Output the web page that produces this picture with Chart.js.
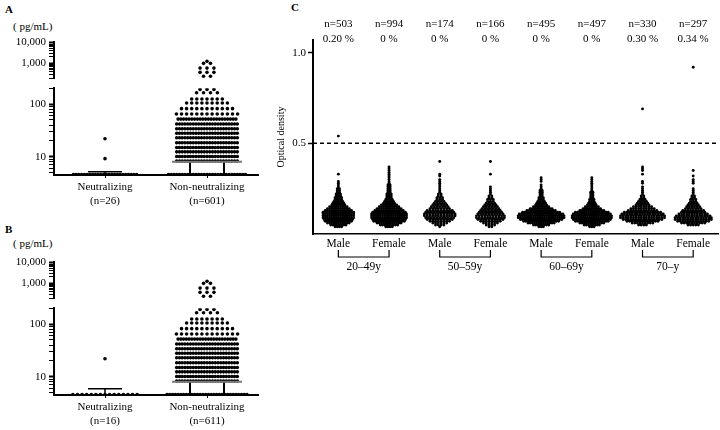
<!DOCTYPE html>
<html>
<head>
<meta charset="utf-8">
<script src="https://cdn.jsdelivr.net/npm/chart.js@4.4.0/dist/chart.umd.min.js"></script>
<style>
body { margin: 0; background: #fff; width: 720px; height: 430px; position: relative; overflow: hidden; font-family: 'Liberation Serif', 'Times New Roman', serif; }
canvas { position: absolute; }
.lbl { position: absolute; font-size: 11px; line-height: 13px; color: #000; white-space: nowrap; }
</style>
</head>
<body>
<div class="lbl" style="left:5px;top:3px;font-weight:bold">A</div>
<div class="lbl" style="left:13px;top:20px">( pg/mL)</div>
<div class="lbl" style="left:5px;top:223px;font-weight:bold">B</div>
<div class="lbl" style="left:13px;top:237px">( pg/mL)</div>
<div class="lbl" style="left:291px;top:1px;font-weight:bold">C</div>
<canvas id="chartA" width="265" height="215" style="left:0;top:0"></canvas>
<canvas id="chartB" width="265" height="210" style="left:0;top:220px"></canvas>
<canvas id="chartC" width="445" height="290" style="left:275px;top:0"></canvas>
<script>
// panel A / B: rows of the dot plots (value in pg/mL, and how many dots sit in that row)
const groupsAB = ['Neutralizing', 'Non-neutralizing'];

const aNeutVals = [4.6, 9.2, 22];
const aNeutCounts = [24, 1, 1];
const aNonVals = [4.6, 8.3, 10.1, 12.4, 15, 18.5, 23, 28, 34, 42, 52, 65, 82, 105, 125, 165, 190, 250, 380, 600, 1000, 1250];
const aNonCounts = [29, 23, 23, 23, 23, 23, 23, 23, 23, 23, 22, 13, 11, 9, 7, 4, 3, 2, 3, 3, 2, 1];
const aN = [26, 601];
const aCap = 5.2;   // upper SD of neutralizing
const aMean = 8.0;  // mean of non-neutralizing

const bNeutVals = [4.6, 22];
const bNeutCounts = [15, 1];
const bNonVals = [4.6, 8.3, 10.1, 12.4, 15, 18.5, 23, 28, 34, 42, 52, 65, 82, 105, 125, 165, 190, 250, 380, 600, 1000, 1250];
const bNonCounts = [30, 23, 23, 23, 23, 23, 23, 23, 23, 23, 22, 13, 11, 9, 7, 4, 3, 2, 3, 3, 2, 1];
const bN = [16, 611];
const bCap = 5.9;
const bMean = 8.0;

// panel C: optical density rows, dots per row for each group
const sexes = ['Male', 'Female', 'Male', 'Female', 'Male', 'Female', 'Male', 'Female'];
const ageGroups = ['20\u201349y', '50\u201359y', '60\u201369y', '70\u2013y'];
const cN = [503, 994, 174, 166, 495, 497, 330, 297];
const cPct = [0.20, 0, 0, 0, 0, 0, 0.30, 0.34];
const cutoff = 0.5;
const odLevels = [0.04, 0.05, 0.06, 0.07, 0.08, 0.09, 0.10, 0.11, 0.12, 0.13, 0.14, 0.15, 0.16, 0.17, 0.18, 0.19, 0.20,
  0.21, 0.22, 0.23, 0.24, 0.25, 0.26, 0.27, 0.28, 0.29, 0.30, 0.31, 0.32, 0.33, 0.34, 0.35, 0.36, 0.37, 0.38, 0.39, 0.40];
const cM2049 = [4,8,11,13,14,15,15,15,15,13,11,9,7,6,5,4,4,3,3,2,2,2,1,1,1,1,0,0,0,1,0,0,0,0,0,0,0];
const cF2049 = [4,9,12,15,16,17,17,17,16,14,12,10,8,6,5,4,3,3,3,2,2,2,2,2,1,1,1,1,1,1,1,1,1,1,0,0,0];
const cM5059 = [1,4,6,8,10,11,12,12,11,10,8,7,6,5,4,3,3,2,2,1,1,1,1,1,1,1,1,0,1,1,0,0,0,0,0,0,1];
const cF5059 = [2,4,6,8,10,11,11,10,9,8,7,6,5,4,3,3,2,2,1,1,1,1,1,0,0,0,0,0,0,1,0,0,0,0,0,0,1];
const cM6069 = [3,8,13,17,20,22,22,21,18,14,11,8,6,5,4,3,3,2,2,2,2,1,1,1,0,1,1,1,0,0,0,0,0,0,0,0,0];
const cF6069 = [3,8,12,16,18,19,19,18,16,12,9,7,5,4,3,3,2,2,2,2,1,1,1,1,1,1,1,1,0,0,0,0,0,0,0,0,0];
const cM70 = [0,4,9,13,16,18,18,17,15,12,10,8,6,5,4,3,2,2,1,1,1,1,1,0,1,1,0,0,0,1,0,1,1,1,0,0,0];
const cF70 = [0,5,10,13,15,15,14,12,10,9,7,6,5,4,3,3,2,2,1,1,1,1,0,0,1,1,1,0,1,0,0,1,0,0,0,0,0];
const cOutliers = [[0.54], [], [], [], [], [], [0.69], [0.92]];

Chart.defaults.font.family = "'Liberation Serif', 'Times New Roman', serif";
Chart.defaults.font.size = 11;
Chart.defaults.color = '#000';

// lay dots of one row side by side, centred on the group; thin rows spread wider
function swarm(xc, vals, counts, gaps) {
  const pts = [];
  vals.forEach((v, r) => {
    const n = counts[r];
    const gap = n >= 16 ? gaps[0] : (n >= 6 ? gaps[1] : gaps[2]);
    for (let i = 0; i < n; i++) pts.push({ x: xc + (i - (n - 1) / 2) * gap, y: v });
  });
  return pts;
}

function logTicks(lo, hi) {
  const t = [];
  for (let e = 0; e <= 4; e++) {
    for (let m = 1; m <= 9; m++) {
      const v = m * Math.pow(10, e);
      if (v >= lo && v <= hi) t.push({ value: v, major: m === 1 });
    }
  }
  return t;
}

const powLabels = { 10: '10', 100: '100', 1000: '1,000', 10000: '10,000' };

function logAxis(lo, hi, weight) {
  return {
    type: 'logarithmic', position: 'left', stack: 'ab', stackWeight: weight,
    min: lo, max: hi,
    afterBuildTicks: s => { s.ticks = logTicks(lo, hi); },
    ticks: { autoSkip: false, padding: 3, callback: v => powLabels[v] || '' },
    grid: { drawOnChartArea: false, tickLength: 5, tickColor: '#000', tickWidth: c => (c.tick && c.tick.major) ? 2 : 1 },
    border: { color: '#000', width: 2 },
    afterFit: s => { s.width = 54; }
  };
}

const statsPlugin = {
  id: 'stats',
  afterDatasetsDraw(chart, args, o) {
    const ctx = chart.ctx;
    const xs = chart.scales.x, ys = chart.scales.yLow;
    const base = ys.bottom;
    ctx.save();
    ctx.strokeStyle = '#000';
    ctx.lineWidth = 1.5;
    const x1 = xs.getPixelForValue(1), yCap = ys.getPixelForValue(o.cap);
    ctx.beginPath();
    ctx.moveTo(x1 - 17, yCap); ctx.lineTo(x1 + 17, yCap);
    ctx.moveTo(x1, yCap); ctx.lineTo(x1, base);
    ctx.stroke();
    const x2 = xs.getPixelForValue(2), yMean = ys.getPixelForValue(o.mean);
    ctx.lineWidth = 2;
    ctx.beginPath();
    ctx.moveTo(x2 - 17, yMean); ctx.lineTo(x2 - 17, base);
    ctx.moveTo(x2 + 17, yMean); ctx.lineTo(x2 + 17, base);
    ctx.stroke();
    ctx.strokeStyle = '#7a7a7a';
    ctx.beginPath();
    ctx.moveTo(x2 - 35, yMean); ctx.lineTo(x2 + 35, yMean);
    ctx.stroke();
    ctx.restore();
  }
};

function abChart(id, neutVals, neutCounts, nonVals, nonCounts, nTotals, cap, mean, h) {
  const gaps = [0.027, 0.05, 0.068];
  const pts = swarm(1, neutVals, neutCounts, [0.027, 0.045, 0.045]).concat(swarm(2, nonVals, nonCounts, gaps));
  const dot = { pointRadius: 1.8, pointBackgroundColor: '#000', pointBorderWidth: 0, pointHoverRadius: 0 };
  new Chart(document.getElementById(id), {
    type: 'scatter',
    data: {
      datasets: [
        Object.assign({ data: pts.filter(p => p.y >= 200), yAxisID: 'yTop' }, dot),
        Object.assign({ data: pts.filter(p => p.y < 200), yAxisID: 'yLow' }, dot)
      ]
    },
    options: {
      responsive: false, animation: false, events: [],
      layout: { padding: { top: 42, right: 7, left: 0, bottom: 0 } },
      plugins: { legend: { display: false }, tooltip: { enabled: false }, stats: { cap: cap, mean: mean } },
      scales: {
        x: {
          type: 'linear', min: 0.5, max: 2.5,
          afterBuildTicks: s => { s.ticks = [{ value: 1 }, { value: 2 }]; },
          ticks: { autoSkip: false, maxRotation: 0, padding: 3, callback: v => [groupsAB[v - 1], '(n=' + nTotals[v - 1] + ')'] },
          grid: { drawOnChartArea: false, tickLength: 3, tickColor: '#000' },
          border: { color: '#000', width: 2 },
          afterFit: s => { s.height = h - 175; }
        },
        // stacked axes are laid out bottom first
        yLow: logAxis(4.5, 200, 86.7),
        yGap: {
          type: 'linear', position: 'left', stack: 'ab', stackWeight: 10,
          ticks: { display: false }, grid: { display: false }, border: { display: false },
          afterFit: s => { s.width = 54; }
        },
        yTop: logAxis(200, 10000, 36.3)
      }
    },
    plugins: [statsPlugin]
  });
}

abChart('chartA', aNeutVals, aNeutCounts, aNonVals, aNonCounts, aN, aCap, aMean, 215);
abChart('chartB', bNeutVals, bNeutCounts, bNonVals, bNonCounts, bN, bCap, bMean, 210);

// panel C
const cCounts = [cM2049, cF2049, cM5059, cF5059, cM6069, cF6069, cM70, cF70];
const cGap = [0.043, 0.043, 0.055, 0.055, 0.043, 0.043, 0.051, 0.051];

const cDecor = {
  id: 'cDecor',
  beforeDatasetsDraw(chart) {
    const { ctx, chartArea } = chart;
    const y = chart.scales.y.getPixelForValue(cutoff);
    ctx.save();
    ctx.setLineDash([4, 3]);
    ctx.lineWidth = 1.5;
    ctx.strokeStyle = '#000';
    ctx.beginPath();
    ctx.moveTo(chartArea.left, y); ctx.lineTo(chartArea.right, y);
    ctx.stroke();
    ctx.restore();
  },
  afterDraw(chart) {
    const { ctx, chartArea } = chart;
    const xs = chart.scales.x;
    ctx.save();
    ctx.fillStyle = '#000';
    ctx.strokeStyle = '#000';
    ctx.textAlign = 'center';
    ctx.textBaseline = 'middle';
    ctx.font = "11px 'Liberation Serif'";
    cN.forEach((n, i) => {
      const x = xs.getPixelForValue(i + 1);
      ctx.fillText('n=' + n, x, 24);
      ctx.fillText(cPct[i] === 0 ? '0 %' : cPct[i].toFixed(2) + ' %', x, 39.5);
    });
    const b = chartArea.bottom;
    ctx.lineWidth = 1.2;
    ctx.font = "11.5px 'Liberation Serif'";
    ageGroups.forEach((g, k) => {
      const xa = xs.getPixelForValue(2 * k + 1), xb = xs.getPixelForValue(2 * k + 2);
      ctx.beginPath();
      ctx.moveTo(xa, b + 16); ctx.lineTo(xa, b + 23); ctx.lineTo(xb, b + 23); ctx.lineTo(xb, b + 16);
      ctx.stroke();
      ctx.fillText(g, (xa + xb) / 2, b + 33);
    });
    ctx.restore();
  }
};

const cDatasets = cCounts.map((counts, i) => ({
  data: swarm(i + 1, odLevels, counts, [cGap[i], cGap[i], cGap[i]]).concat(cOutliers[i].map(v => ({ x: i + 1, y: v }))),
  pointRadius: 1.45, pointBackgroundColor: '#000', pointBorderWidth: 0, pointHoverRadius: 0
}));

new Chart(document.getElementById('chartC'), {
  type: 'scatter',
  data: { datasets: cDatasets },
  options: {
    responsive: false, animation: false, events: [],
    layout: { padding: { top: 40, right: 0, left: 0, bottom: 0 } },
    plugins: { legend: { display: false }, tooltip: { enabled: false } },
    scales: {
      x: {
        type: 'linear', min: 0.5, max: 8.5,
        afterBuildTicks: s => { s.ticks = sexes.map((_, i) => ({ value: i + 1 })); },
        ticks: { autoSkip: false, maxRotation: 0, padding: 3, font: { size: 11.5 }, callback: v => sexes[v - 1] },
        grid: { display: false, drawTicks: false },
        border: { color: '#000', width: 1.5 },
        afterFit: s => { s.height = 56; }
      },
      y: {
        min: 0, max: 1.07,
        afterBuildTicks: s => { s.ticks = [{ value: 0.5 }, { value: 1 }]; },
        ticks: { padding: 2, callback: v => v.toFixed(1) },
        grid: { drawOnChartArea: false, tickLength: 5, tickColor: '#000', tickWidth: 1.5 },
        border: { color: '#000', width: 2 },
        title: { display: true, text: 'Optical density', font: { size: 10 }, padding: { top: 0, bottom: 0 } },
        afterFit: s => { s.width = 38; }
      }
    }
  },
  plugins: [cDecor]
});
</script>
</body>
</html>
